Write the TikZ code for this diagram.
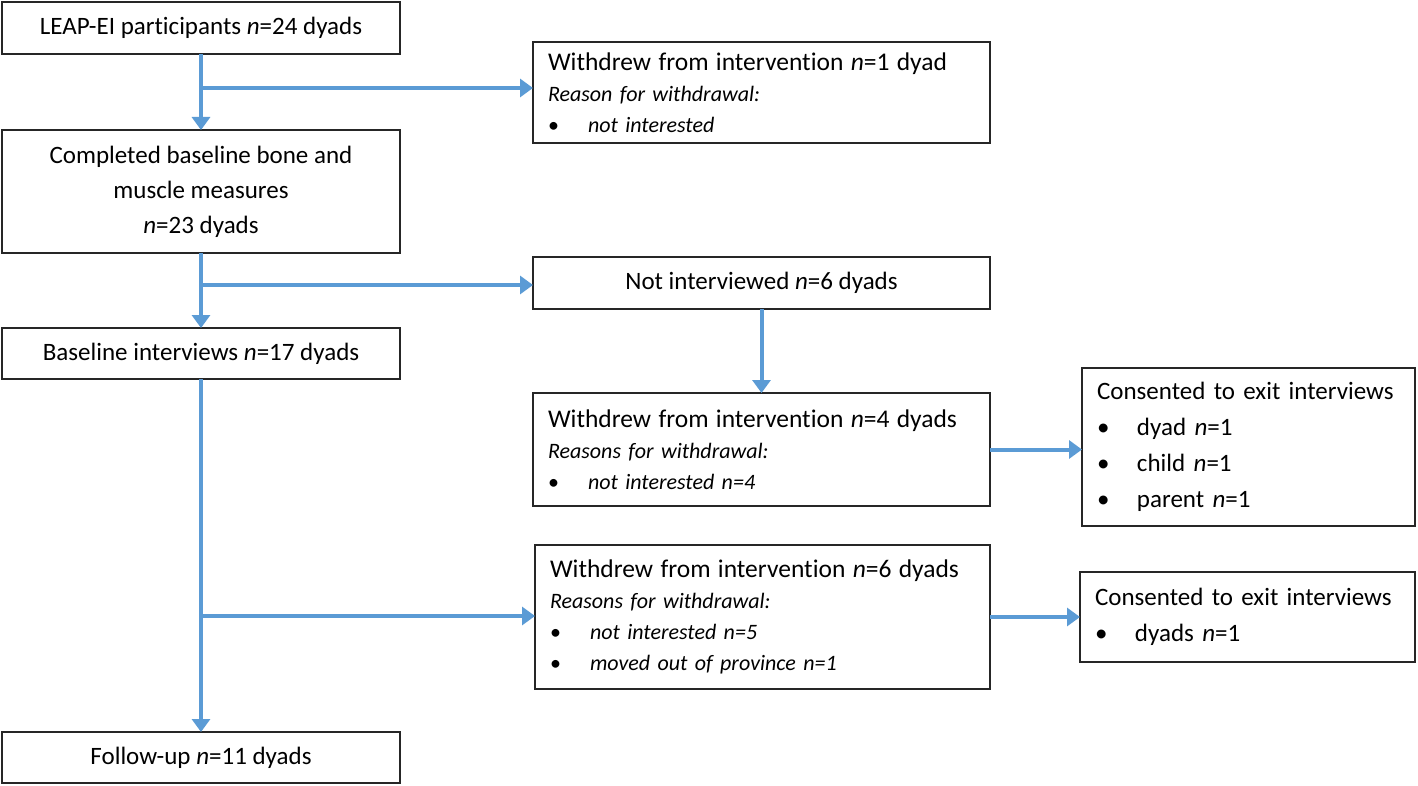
\documentclass[tikz,border=0pt]{standalone}
\usepackage{fontspec}
\setmainfont{Carlito}[RawFeature=-liga]
\usetikzlibrary{arrows.meta}

\definecolor{arrowblue}{HTML}{5B9BD5}
\newcommand{\nval}{\textit{n}}
\newcommand{\bitem}[1]{\makebox[40pt][l]{\textbullet}#1}
\newcommand{\bigline}{\fontsize{25.5}{31}\selectfont}

\tikzstyle{block} = [rectangle, draw=black!85, line width=1.3pt, anchor=north west, outer sep=0pt, inner xsep=15pt, font=\fontsize{25}{35}\selectfont]
\tikzstyle{listblock} = [block, align=left, font=\fontsize{22}{31}\selectfont]
\tikzstyle{flowline} = [draw=arrowblue, line width=4pt, -{Triangle[width=18pt,length=13pt]}]

\begin{document}
\begin{tikzpicture}[x=1pt,y=-1pt]
        \useasboundingbox (0,0) rectangle (1418,786);
        % Main column
        \node (start) at (2,2) [block, minimum width=398pt, minimum height=52pt] {LEAP-EI participants \nval=24 dyads};
        \node (measures) at (2,130) [block, minimum width=398pt, minimum height=123pt, align=center] {Completed baseline bone and\\ muscle measures\\ \nval=23 dyads};
        \node (baseint) at (2,328) [block, minimum width=398pt, minimum height=51pt] {Baseline interviews \nval=17 dyads};
        \node (follow) at (2,732) [block, minimum width=398pt, minimum height=51pt] {Follow-up \nval=11 dyads};
        % Side boxes
        \node (wdone) at (533,42) [listblock, text width=427pt, minimum height=101pt] {{\bigline Withdrew from intervention \nval=1 dyad}\\ \textit{Reason for withdrawal:}\\ \bitem{\textit{not interested}}};
        \node (notint) at (533,257) [block, minimum width=457pt, minimum height=52pt] {Not interviewed \nval=6 dyads};
        \node (wdfour) at (533,393) [listblock, text width=427pt, minimum height=113pt] {{\bigline Withdrew from intervention \nval=4 dyads}\\ \textit{Reasons for withdrawal:}\\ \bitem{\textit{not interested n=4}}};
        \node (wdsix) at (535,545) [listblock, text width=425pt, minimum height=144pt] {{\bigline Withdrew from intervention \nval=6 dyads}\\ \textit{Reasons for withdrawal:}\\ \bitem{\textit{not interested n=5}}\\ \bitem{\textit{moved out of province n=1}}};
        \node (consone) at (1082,368) [block, text width=303pt, minimum height=158pt, align=left, font=\fontsize{25}{36}\selectfont] {Consented to exit interviews\\ \bitem{dyad \nval=1}\\ \bitem{child \nval=1}\\ \bitem{parent \nval=1}};
        \node (constwo) at (1080,572) [block, text width=305pt, minimum height=90pt, align=left, font=\fontsize{25}{36}\selectfont] {Consented to exit interviews\\ \bitem{dyads \nval=1}};
        % Branch points
        \coordinate (brone) at (201,88);
        \coordinate (brtwo) at (201,285);
        \coordinate (brthree) at (201,616);
        % Arrows
        \draw[flowline] (start.south) -- (measures.north);
        \draw[flowline] (brone) -- (brone -| wdone.west);
        \draw[flowline] (measures.south) -- (baseint.north);
        \draw[flowline] (brtwo) -- (brtwo -| notint.west);
        \draw[flowline] (notint.south) -- (wdfour.north);
        \draw[flowline] (wdfour.east) -- (wdfour.east -| consone.west);
        \draw[flowline] (baseint.south) -- (follow.north);
        \draw[flowline] (brthree) -- (brthree -| wdsix.west);
        \draw[flowline] (wdsix.east) -- (wdsix.east -| constwo.west);
\end{tikzpicture}
\end{document}
